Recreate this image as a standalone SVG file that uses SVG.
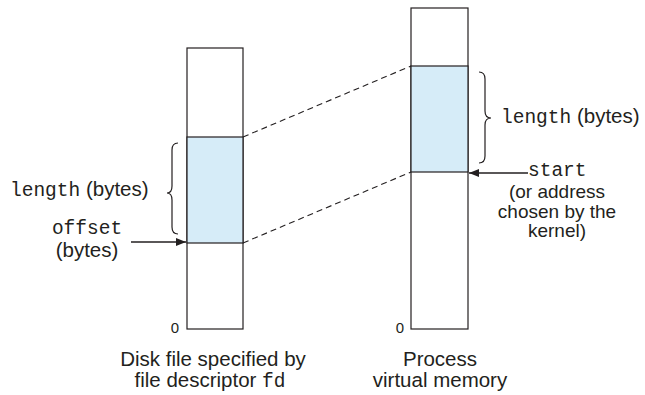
<svg xmlns="http://www.w3.org/2000/svg" width="645" height="395" viewBox="0 0 645 395">
<style>
.box{fill:#fff;stroke:#231f20;stroke-width:1.2}
.seg{fill:#d6ecf8;stroke:#231f20;stroke-width:1.2}
.dash{fill:none;stroke:#231f20;stroke-width:1.1;stroke-dasharray:6,4}
.br{fill:none;stroke:#231f20;stroke-width:1.2}
.ar{stroke:#231f20;stroke-width:1.3;fill:none}
.t{font-family:"Liberation Sans",Arial,sans-serif;font-size:20.5px;fill:#231f20}
.s{font-size:19px}
.m{font-family:"Liberation Mono","Courier New",monospace;font-size:19.5px}
.z{font-family:"Liberation Sans",Arial,sans-serif;font-size:15px;fill:#231f20}
</style>
<defs>
<marker id="ah" markerWidth="10" markerHeight="8" refX="10" refY="4" orient="auto" markerUnits="userSpaceOnUse">
<path d="M0,0 L10,4 L0,8 Z" fill="#231f20"/>
</marker>
</defs>
<g id="diskfile">
<rect class="box" x="187" y="48" width="56" height="281"/>
<rect class="seg" x="187" y="137" width="56" height="106"/>
<text class="z" x="175" y="333" text-anchor="middle">0</text>
<text class="t" x="213" y="366" text-anchor="middle">Disk file specified by</text>
<text class="t" x="210" y="387" text-anchor="middle">file descriptor <tspan class="m">fd</tspan></text>
</g>
<g id="vmem">
<rect class="box" x="411" y="8" width="57" height="321"/>
<rect class="seg" x="411" y="66" width="57" height="106"/>
<text class="z" x="400" y="333" text-anchor="middle">0</text>
<text class="t" x="440" y="366" text-anchor="middle">Process</text>
<text class="t" x="440" y="387" text-anchor="middle">virtual memory</text>
</g>
<g id="leftlabels">
<path class="br" d="M178,143 Q172,143 172,150 L172,186 Q172,193 167,193 Q172,193 172,200 L172,227 Q172,234 178,234"/>
<text class="t" x="10" y="196"><tspan class="m">length</tspan> (bytes)</text>
<text class="t m" x="87" y="234" text-anchor="middle">offset</text>
<text class="t" x="87" y="257" text-anchor="middle">(bytes)</text>
</g>
<g id="rightlabels">
<path class="br" d="M479,72 Q485,72 485,79 L485,111 Q485,118 491,118 Q485,118 485,125 L485,156 Q485,163 479,163"/>
<text class="t" x="501" y="123"><tspan class="m">length</tspan> (bytes)</text>
<text class="t m" x="528" y="176">start</text>
<text class="t s" x="557" y="198" text-anchor="middle">(or address</text>
<text class="t s" x="557" y="217.5" text-anchor="middle">chosen by the</text>
<text class="t s" x="557" y="237" text-anchor="middle">kernel)</text>
</g>
<g id="connectors">
<line class="dash" x1="243" y1="137" x2="411" y2="66"/>
<line class="dash" x1="243" y1="243" x2="411" y2="172"/>
<line class="ar" x1="131" y1="242" x2="186" y2="242" marker-end="url(#ah)"/>
<line class="ar" x1="528" y1="173" x2="469" y2="173" marker-end="url(#ah)"/>
</g>
</svg>
